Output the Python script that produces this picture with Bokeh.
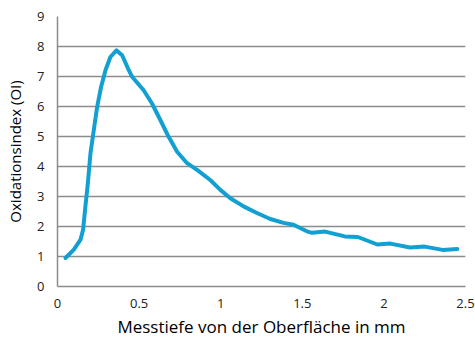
from bokeh.plotting import figure
from bokeh.models import FixedTicker, Range1d
from bokeh.embed import file_html
from bokeh.resources import INLINE

depth = [0.049, 0.10, 0.141, 0.157, 0.171, 0.186, 0.202, 0.222, 0.243, 0.267, 0.294,
         0.324, 0.361, 0.396, 0.437, 0.457, 0.528, 0.579, 0.630, 0.681, 0.733, 0.794,
         0.855, 0.936, 0.998, 1.059, 1.14, 1.222, 1.304, 1.385, 1.446, 1.528, 1.56,
         1.64, 1.76, 1.84, 1.96, 2.04, 2.16, 2.25, 2.36, 2.45]
oi = [0.95, 1.23, 1.56, 1.9, 2.67, 3.44, 4.44, 5.2, 5.99, 6.65, 7.21,
      7.65, 7.87, 7.71, 7.21, 6.99, 6.54, 6.1, 5.55, 4.99, 4.49, 4.11,
      3.89, 3.55, 3.22, 2.94, 2.67, 2.45, 2.25, 2.12, 2.06, 1.84, 1.79,
      1.83, 1.67, 1.65, 1.4, 1.43, 1.3, 1.33, 1.22, 1.25]

x_ticks = [0, 0.5, 1, 1.5, 2, 2.5]
y_ticks = [0, 1, 2, 3, 4, 5, 6, 7, 8, 9]

FONT = "Open Sans"
GRID = "#8c8c8c"

p = figure(width=475, height=340, output_backend="svg", toolbar_location=None,
           x_range=Range1d(0, 2.5), y_range=Range1d(0, 9),
           min_border_left=57, min_border_right=10, min_border_top=16, min_border_bottom=53)
p.outline_line_color = None
p.background_fill_color = "white"

p.line(depth, oi, line_color="#12a0d2", line_width=4, line_join="round", line_cap="round")

p.xaxis.ticker = FixedTicker(ticks=x_ticks)
p.yaxis.ticker = FixedTicker(ticks=y_ticks)
p.xgrid.grid_line_color = None
p.ygrid.grid_line_color = GRID
p.ygrid.grid_line_width = 1.5

for ax in (p.xaxis[0], p.yaxis[0]):
    ax.axis_line_color = GRID
    ax.axis_line_width = 1.5
    ax.major_tick_line_color = None
    ax.minor_tick_line_color = None
    ax.major_tick_out = 0
    ax.major_tick_in = 0
    ax.minor_tick_out = 0
    ax.minor_tick_in = 0
    ax.major_label_text_font = FONT
    ax.major_label_text_font_size = "13px"
    ax.major_label_text_color = "#222222"
    ax.axis_label_text_font = FONT
    ax.axis_label_text_font_style = "normal"
    ax.axis_label_text_color = "#000000"

p.xaxis.axis_label = "Messtiefe von der Oberfläche in mm"
p.yaxis.axis_label = "Oxidationsindex (OI)"
p.xaxis.axis_label_text_font_size = "17px"
p.yaxis.axis_label_text_font_size = "15px"
p.xaxis.major_label_standoff = 12
p.yaxis.major_label_standoff = 13
p.xaxis.axis_label_standoff = 4
p.yaxis.axis_label_standoff = 9

open("out.html", "w").write(file_html(p, INLINE))
